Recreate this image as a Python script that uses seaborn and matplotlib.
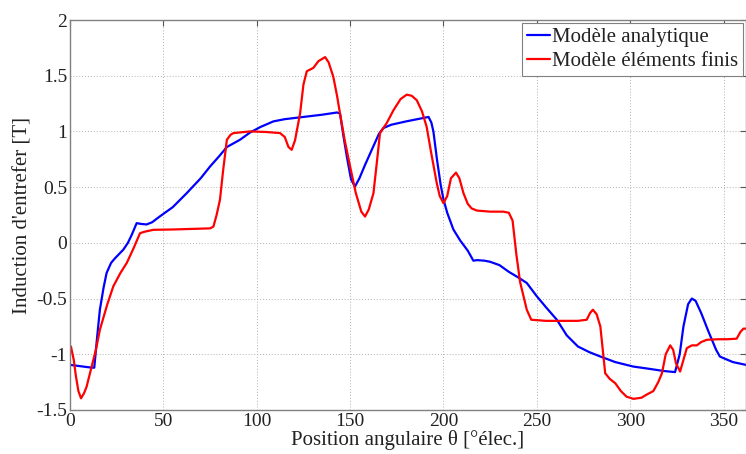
import numpy as np
import pandas as pd
import matplotlib
matplotlib.use("Agg")
import matplotlib.pyplot as plt
import seaborn as sns

# ---- data ----
x_analytique = [0, 11.6, 13, 14.5, 16, 18, 19.6, 22, 24, 28.6, 31, 33, 35.7, 38, 41, 44, 48, 55,
                62.5, 70, 75, 80, 84, 91, 96.4, 102, 108.9, 115, 125, 135, 143, 144.6, 146.5,
                148.5, 150.5, 152.6, 155, 158, 162, 165.5, 167.8, 172, 180, 186, 192, 193.5,
                194.6, 196.5, 198.5, 200, 202, 205.3, 209, 213, 216, 218, 222, 225, 230, 235,
                240, 244.6, 250, 255, 260.7, 266, 272, 278, 284, 292, 301.6, 310, 318, 324,
                326.5, 328.5, 331, 333, 335, 338, 342, 346, 348, 350, 355, 362]
y_analytique = [-1.095, -1.12, -1.12, -0.85, -0.6, -0.4, -0.27, -0.18, -0.14, -0.06, 0.0, 0.07,
                0.177, 0.17, 0.165, 0.185, 0.236, 0.32, 0.446, 0.58, 0.685, 0.78, 0.86, 0.925, 0.99,
                1.04, 1.09, 1.11, 1.13, 1.15, 1.17, 1.16, 0.95, 0.75, 0.57, 0.505, 0.58, 0.7, 0.85,
                0.98, 1.03, 1.06, 1.09, 1.11, 1.13, 1.08, 1.0, 0.75, 0.52, 0.39, 0.27, 0.12, 0.02,
                -0.07, -0.16, -0.155, -0.16, -0.17, -0.2, -0.26, -0.31, -0.36, -0.48, -0.58,
                -0.69, -0.83, -0.93, -0.98, -1.02, -1.07, -1.11, -1.13, -1.15, -1.16, -1.0,
                -0.75, -0.55, -0.5, -0.52, -0.63, -0.8, -0.96, -1.02, -1.035, -1.07, -1.095]

x_ef = [0.5, 2, 3.2, 4.5, 5.9, 7.5, 8.9, 11.6, 14, 16, 20, 23.2, 27, 30.4, 34, 37.5, 40, 44.6,
        55, 65, 75, 76.8, 78.5, 80.3, 82, 84, 86, 87.5, 96.4, 105, 112.5, 115, 117, 118.7,
        120.5, 123.2, 125, 126.8, 130.3, 133, 136.6, 138.5, 141, 143, 144.6, 147, 150, 153,
        156, 158, 160, 162.5, 164.5, 166, 169.6, 173.2, 177, 180.3, 183, 185.7, 188.5, 191,
        193.5, 196.4, 198, 200, 202, 204, 206.7, 208.5, 210.7, 213, 215, 217.8, 225, 232,
        235, 237, 239, 241, 244.6, 247, 255, 265, 272, 276.7, 278.5, 280, 282, 284, 286.6,
        289, 292, 295, 298, 301.7, 306, 309, 312.4, 315, 317, 319, 321.4, 323, 324.5, 326.7,
        328.5, 330.3, 333, 335.7, 338, 341, 347, 352, 357, 359, 360.6, 362]
y_ef = [-0.93, -1.05, -1.2, -1.33, -1.395, -1.35, -1.29, -1.11, -0.95, -0.78, -0.55, -0.39,
        -0.27, -0.18, -0.05, 0.087, 0.1, 0.117, 0.12, 0.125, 0.13, 0.146, 0.25, 0.386, 0.65,
        0.925, 0.97, 0.985, 1.0, 0.995, 0.985, 0.95, 0.86, 0.835, 0.92, 1.16, 1.42, 1.54, 1.57,
        1.63, 1.667, 1.62, 1.49, 1.32, 1.16, 0.93, 0.685, 0.45, 0.28, 0.236, 0.3, 0.446, 0.75,
        0.985, 1.075, 1.19, 1.29, 1.33, 1.32, 1.28, 1.18, 1.04, 0.8, 0.536, 0.42, 0.356, 0.42,
        0.58, 0.63, 0.58, 0.446, 0.35, 0.31, 0.29, 0.28, 0.28, 0.27, 0.2, -0.1, -0.35, -0.6,
        -0.69, -0.7, -0.7, -0.7, -0.69, -0.63, -0.6, -0.64, -0.75, -1.17, -1.22, -1.26, -1.33,
        -1.38, -1.40, -1.39, -1.36, -1.33, -1.25, -1.17, -1.0, -0.92, -0.96, -1.08, -1.155,
        -1.05, -0.945, -0.92, -0.92, -0.89, -0.87, -0.865, -0.865, -0.86, -0.8, -0.77, -0.77]

x_ticks = [0, 50, 100, 150, 200, 250, 300, 350]
y_ticks = [-1.5, -1, -0.5, 0, 0.5, 1, 1.5, 2]
y_tick_labels = ["-1.5", "-1", "-0.5", "0", "0.5", "1", "1.5", "2"]

serie_a = "Modèle analytique"
serie_b = "Modèle éléments finis"

df = pd.concat([
    pd.DataFrame({"x": x_analytique, "y": y_analytique, "s": serie_a}),
    pd.DataFrame({"x": x_ef, "y": y_ef, "s": serie_b}),
], ignore_index=True)

# ---- style ----
sns.set_style("white")
plt.rcParams["font.family"] = ["Liberation Serif", "DejaVu Serif"]
plt.rcParams["axes.unicode_minus"] = False

fig = plt.figure(figsize=(7.46, 4.54), dpi=100)
ax = fig.add_axes([70 / 746, 1 - 410 / 454, 676 / 746, 390 / 454])

sns.lineplot(data=df, x="x", y="y", hue="s", palette={serie_a: "#0000ff", serie_b: "#ff0000"},
             estimator=None, sort=False, linewidth=1.6, ax=ax)

ax.set_xlim(0, 362)
ax.set_ylim(-1.5, 2)
ax.set_xticks(x_ticks)
ax.set_xticklabels([str(t) for t in x_ticks])
ax.set_yticks(y_ticks)
ax.set_yticklabels(y_tick_labels)
ax.grid(True, color="#b0b0b0", linestyle=(0, (1, 2)), linewidth=0.7)
ax.tick_params(direction="in", top=True, right=True, length=4, width=0.8,
               color="#555555", labelsize=14, labelcolor="#222222", pad=2)
for sp in ax.spines.values():
    sp.set_color("#808080")
    sp.set_linewidth(1.0)

ax.set_xlabel("Position angulaire θ [°élec.]", fontsize=15, color="#222222", labelpad=0)
ax.set_ylabel("Induction d'entrefer [T]", fontsize=15, color="#222222", labelpad=3)

leg = ax.legend(loc="upper right", fontsize=15, handlelength=1.13, handletextpad=0.1,
                borderpad=0.22, labelspacing=0.2, borderaxespad=0.15, fancybox=False,
                framealpha=1, edgecolor="#808080")
leg.get_frame().set_linewidth(0.8)
for t in leg.get_texts():
    t.set_color("#222222")

fig.savefig("out.png", dpi=100)
